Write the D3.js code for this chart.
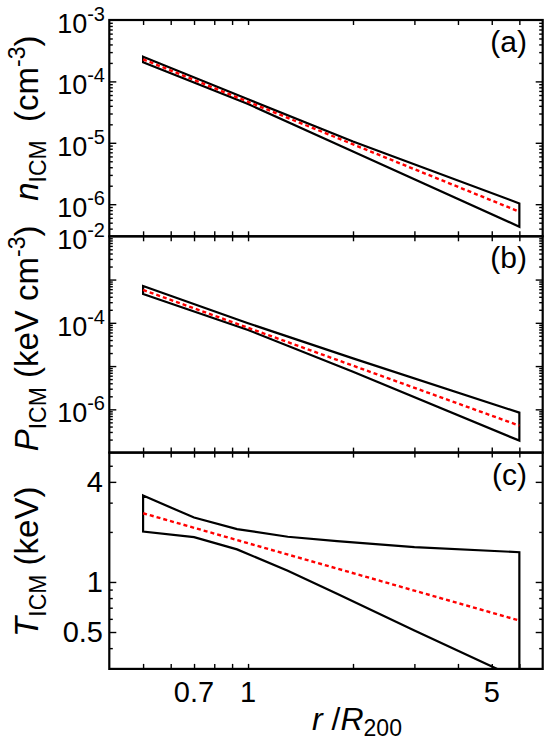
<!DOCTYPE html>
<html>
<head>
<meta charset="utf-8">
<script src="https://cdn.jsdelivr.net/npm/d3@7"></script>
<style>
body { margin: 0; background: #fff; }
text { font-family: "Liberation Sans", Arial, sans-serif; fill: #000; }
</style>
</head>
<body>
<svg id="canvas"></svg>
<script>
// radii in units of R200
let rDens = [0.5, 1, 2, 6]
let rTemp = [0.5, 0.7, 0.93, 1.3, 1.8, 3, 6]
let rFit = [0.5, 6]

// (a) density band, cm^-3
let nUpper = [2.52e-4, 5.1e-5, 1.05e-5, 1.03e-6]
let nLower = [2.05e-4, 4.28e-5, 7.2e-6, 4.3e-7]
let nFit = [2.29e-4, 7.55e-7]

// (b) pressure band, keV cm^-3
let pUpper = [7.1e-4, 9.75e-5, 1.51e-5, 8.4e-7]
let pLower = [4.65e-4, 6.84e-5, 7.4e-6, 1.89e-7]
let pFit = [5.74e-4, 4.2e-7]

// (c) temperature band, keV
let tUpper = [3.31, 2.44, 2.08, 1.87, 1.76, 1.62, 1.51]
let tLower = [2.01, 1.86, 1.57, 1.17, 0.85, 0.51, 0.26]
let tFit = [2.59, 0.586]

// tick labels
let xTickLabels = [0.7, 1, 5]
let nTickExp = [-3, -4, -5, -6]
let pTickExp = [-2, -4, -6]
let tTickLabels = [4, 1, 0.5]

let width = 545
let height = 742
let plotLeft = 109.3
let plotRight = 542.7
let plotTop = 20
let panelH = 216.3

let svg = d3.select("#canvas")
svg.attr("width", width)
svg.attr("height", height)

let xScale = d3.scaleLog()
    .domain([0.4, 7])
    .range([plotLeft, plotRight])

let near = (a, b) => Math.abs(a - b) / Math.abs(b) < 1e-6

let panels = [
    { name: "(a)", domain: [3e-7, 1e-3], r: rDens, upper: nUpper, lower: nLower, fit: nFit,
      major: [1e-3, 1e-4, 1e-5, 1e-6], exps: nTickExp, titleShift: -10,
      title: [["n", "italic"], ["ICM", "sub"], ["  (cm", ""], ["-3", "sup"], [")", ""]] },
    { name: "(b)", domain: [1e-7, 1e-2], r: rDens, upper: pUpper, lower: pLower, fit: pFit,
      major: [1e-2, 1e-3, 1e-4, 1e-5, 1e-6, 1e-7], exps: pTickExp, titleShift: -6,
      title: [["P", "italic"], ["ICM", "sub"], [" (keV cm", ""], ["-3", "sup"], [")", ""]] },
    { name: "(c)", domain: [0.3, 6], r: rTemp, upper: tUpper, lower: tLower, fit: tFit,
      major: tTickLabels, nums: tTickLabels, titleShift: 1,
      title: [["T", "italic"], ["ICM", "sub"], [" (keV)", ""]] }
]

let addTicks = (g, axis, values, len, transform) => {
    g.append("g")
        .attr("transform", transform)
        .call(axis.tickValues(values).tickSize(len).tickFormat(""))
        .call(a => a.select(".domain").remove())
        .selectAll("line").attr("stroke", "#000").attr("stroke-width", 1.4)
}

let drawPanel = (p, i) => {
    let y0 = plotTop + i * panelH
    let y1 = y0 + panelH
    let yScale = d3.scaleLog()
        .domain(p.domain)
        .range([y1, y0])

    let g = svg.append("g")

    svg.append("clipPath")
        .attr("id", "clip" + i)
        .append("rect")
        .attr("x", plotLeft).attr("y", y0)
        .attr("width", plotRight - plotLeft).attr("height", panelH)

    let line = d3.line()
        .x(d => xScale(d[0]))
        .y(d => yScale(d[1]))

    let band = p.r.map((r, k) => [r, p.upper[k]])
        .concat(p.r.map((r, k) => [r, p.lower[k]]).reverse())

    g.append("path")
        .attr("clip-path", "url(#clip" + i + ")")
        .attr("d", line(band) + "Z")
        .attr("fill", "none")
        .attr("stroke", "#000")
        .attr("stroke-width", 2.2)

    g.append("path")
        .attr("clip-path", "url(#clip" + i + ")")
        .attr("d", line(rFit.map((r, k) => [r, p.fit[k]])))
        .attr("fill", "none")
        .attr("stroke", "#ff0000")
        .attr("stroke-width", 2.4)
        .attr("stroke-dasharray", "4,3")

    // y ticks, all four sides pointing inward
    let yt = yScale.ticks().filter(v => v > p.domain[0] * 1.001 && v < p.domain[1] * 0.999)
    let yMajor = yt.filter(v => p.major.some(m => near(v, m)))
    let yMinor = yt.filter(v => !p.major.some(m => near(v, m)))
    addTicks(g, d3.axisRight(yScale), yMinor, 3.5, "translate(" + plotLeft + ",0)")
    addTicks(g, d3.axisRight(yScale), yMajor, 7, "translate(" + plotLeft + ",0)")
    addTicks(g, d3.axisLeft(yScale), yMinor, 3.5, "translate(" + plotRight + ",0)")
    addTicks(g, d3.axisLeft(yScale), yMajor, 7, "translate(" + plotRight + ",0)")

    let xt = xScale.ticks().filter(v => v > 0.41 && v < 6.9)
    addTicks(g, d3.axisBottom(xScale), xt, 5, "translate(0," + y0 + ")")
    addTicks(g, d3.axisTop(xScale), xt, 5, "translate(0," + y1 + ")")

    g.append("rect")
        .attr("x", plotLeft).attr("y", y0)
        .attr("width", plotRight - plotLeft).attr("height", panelH)
        .attr("fill", "none")
        .attr("stroke", "#000")
        .attr("stroke-width", 2.2)

    // y tick labels
    if (p.exps) {
        p.exps.forEach(e => {
            let t = g.append("text")
                .attr("x", 105)
                .attr("y", yScale(Math.pow(10, e)) + 13)
                .attr("text-anchor", "end")
            t.append("tspan").attr("font-size", 27).text("10")
            t.append("tspan").attr("font-size", 20).attr("dy", -12).text(e)
        })
    } else {
        p.nums.forEach(v => {
            g.append("text")
                .attr("x", 103)
                .attr("y", yScale(v))
                .attr("dy", "0.36em")
                .attr("text-anchor", "end")
                .attr("font-size", 29)
                .text(v)
        })
    }

    g.append("text")
        .attr("x", 527)
        .attr("y", y0 + 32)
        .attr("text-anchor", "end")
        .attr("font-size", 30)
        .text(p.name)

    // axis title, rotated
    let title = g.append("text")
        .attr("transform", "translate(38," + (y0 + panelH / 2 + p.titleShift) + ") rotate(-90)")
        .attr("text-anchor", "middle")
        .attr("font-size", 33)
    let shift = 0
    p.title.forEach(part => {
        let s = title.append("tspan").text(part[0])
        let want = 0
        if (part[1] == "italic") s.attr("font-style", "italic")
        if (part[1] == "sub") { s.attr("font-size", 23); want = 8 }
        if (part[1] == "sup") { s.attr("font-size", 23); want = -13 }
        if (want - shift != 0) s.attr("dy", want - shift)
        shift = want
    })
    title.attr("xml:space", "preserve")
}

panels.forEach(drawPanel)

// bottom x tick labels
xTickLabels.forEach(v => {
    svg.append("text")
        .attr("x", xScale(v))
        .attr("y", 702)
        .attr("text-anchor", "middle")
        .attr("font-size", 29)
        .text(v)
})

let xTitle = svg.append("text")
    .attr("x", 357)
    .attr("y", 730)
    .attr("text-anchor", "middle")
    .attr("font-size", 32)
xTitle.append("tspan").attr("font-style", "italic").text("r ")
xTitle.append("tspan").text("/")
xTitle.append("tspan").attr("font-style", "italic").text("R")
xTitle.append("tspan").attr("font-size", 23).attr("dy", 6).text("200")
</script>
</body>
</html>
